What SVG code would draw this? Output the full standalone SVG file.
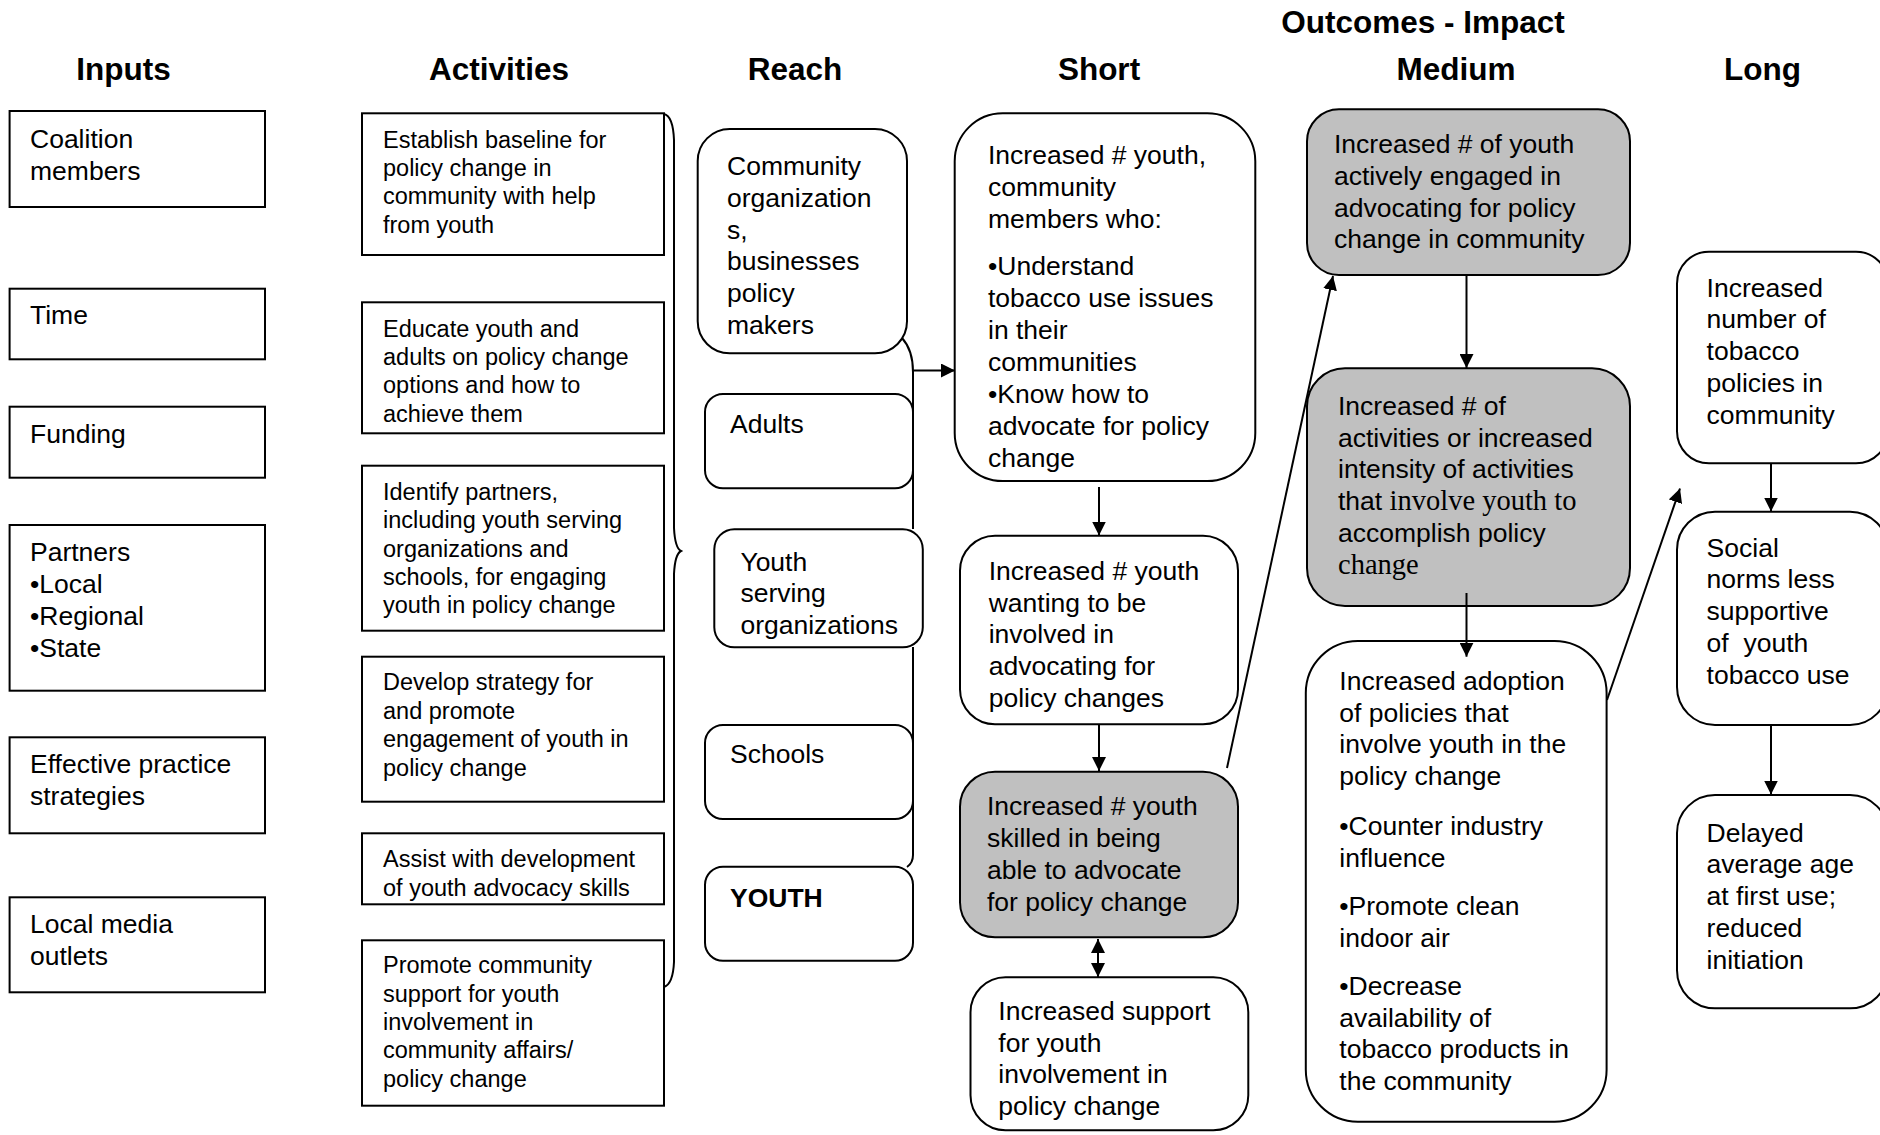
<svg xmlns="http://www.w3.org/2000/svg" width="1880" height="1135" viewBox="0 0 1880 1135">
  <style>
    .box { fill: #ffffff; stroke: #000000; stroke-width: 2; }
    .shade { fill: #c0c0c0; stroke: #000000; stroke-width: 2; }
    .t { font-family: "Liberation Sans", Arial, sans-serif; font-size: 26.5px; fill: #000000; }
    .ts { font-family: "Liberation Sans", Arial, sans-serif; font-size: 23.5px; fill: #000000; }
    .serif { font-family: "Liberation Serif", "Times New Roman", serif; font-size: 28.5px; }
    .head { font-family: "Liberation Sans", Arial, sans-serif; font-size: 31.5px; font-weight: bold; fill: #000000; text-anchor: middle; }
    .bold { font-weight: bold; }
    .wire { fill: none; stroke: #000000; stroke-width: 2; }
  </style>
  <defs>
    <marker id="arrow" viewBox="0 0 14 14" refX="14" refY="7" markerWidth="14" markerHeight="14" markerUnits="userSpaceOnUse" orient="auto-start-reverse">
      <path d="M0,0 L14,7 L0,14 z" fill="#000000"/>
    </marker>
  </defs>

  <rect width="1880" height="1135" fill="#ffffff"/>

  <!-- column headings -->
  <g id="headings">
    <text class="head" x="123.5" y="80">Inputs</text>
    <text class="head" x="499" y="80">Activities</text>
    <text class="head" x="795" y="80">Reach</text>
    <text class="head" x="1099" y="80">Short</text>
    <text class="head" x="1423" y="33">Outcomes - Impact</text>
    <text class="head" x="1456" y="80">Medium</text>
    <text class="head" x="1762.5" y="80">Long</text>
  </g>

  <!-- Inputs -->
  <g id="input-coalition">
    <rect class="box" x="9.6" y="111" width="255.4" height="96"/>
    <text class="t"><tspan x="30" y="147.7">Coalition</tspan><tspan x="30" y="179.5">members</tspan></text>
  </g>
  <g id="input-time">
    <rect class="box" x="9.6" y="288.7" width="255.4" height="70.6"/>
    <text class="t" x="30" y="324">Time</text>
  </g>
  <g id="input-funding">
    <rect class="box" x="9.6" y="406.7" width="255.4" height="71"/>
    <text class="t" x="30" y="443">Funding</text>
  </g>
  <g id="input-partners">
    <rect class="box" x="9.6" y="525" width="255.4" height="165.7"/>
    <text class="t"><tspan x="30" y="561">Partners</tspan><tspan x="30" y="593">•Local</tspan><tspan x="30" y="625">•Regional</tspan><tspan x="30" y="657">•State</tspan></text>
  </g>
  <g id="input-practice">
    <rect class="box" x="9.6" y="737.3" width="255.4" height="96"/>
    <text class="t"><tspan x="30" y="773">Effective practice</tspan><tspan x="30" y="805">strategies</tspan></text>
  </g>
  <g id="input-media">
    <rect class="box" x="9.6" y="897.3" width="255.4" height="95"/>
    <text class="t"><tspan x="30" y="933.3">Local media</tspan><tspan x="30" y="964.5">outlets</tspan></text>
  </g>

  <!-- Activities -->
  <g id="act-baseline">
    <rect class="box" x="362" y="113.3" width="302" height="141.7"/>
    <text class="ts"><tspan x="383" y="147.7">Establish baseline for</tspan><tspan x="383" y="176">policy change in</tspan><tspan x="383" y="204.3">community with help</tspan><tspan x="383" y="232.6">from youth</tspan></text>
  </g>
  <g id="act-educate">
    <rect class="box" x="362" y="302.3" width="302" height="131"/>
    <text class="ts"><tspan x="383" y="336.7">Educate youth and</tspan><tspan x="383" y="365">adults on policy change</tspan><tspan x="383" y="393.3">options and how to</tspan><tspan x="383" y="421.6">achieve them</tspan></text>
  </g>
  <g id="act-partners">
    <rect class="box" x="362" y="465.7" width="302" height="165"/>
    <text class="ts"><tspan x="383" y="500">Identify partners,</tspan><tspan x="383" y="528.3">including youth serving</tspan><tspan x="383" y="556.6">organizations and</tspan><tspan x="383" y="585">schools, for engaging</tspan><tspan x="383" y="613.3">youth in policy change</tspan></text>
  </g>
  <g id="act-strategy">
    <rect class="box" x="362" y="656.7" width="302" height="145"/>
    <text class="ts"><tspan x="383" y="690">Develop strategy for</tspan><tspan x="383" y="718.5">and promote</tspan><tspan x="383" y="747">engagement of youth in</tspan><tspan x="383" y="775.5">policy change</tspan></text>
  </g>
  <g id="act-skills">
    <rect class="box" x="362" y="833.3" width="302" height="71"/>
    <text class="ts"><tspan x="383" y="867.3">Assist with development</tspan><tspan x="383" y="895.5">of youth advocacy skills</tspan></text>
  </g>
  <g id="act-support">
    <rect class="box" x="362" y="940.3" width="302" height="165.4"/>
    <text class="ts"><tspan x="383" y="973.3">Promote community</tspan><tspan x="383" y="1001.6">support for youth</tspan><tspan x="383" y="1030">involvement in</tspan><tspan x="383" y="1058.3">community affairs/</tspan><tspan x="383" y="1087">policy change</tspan></text>
  </g>

  <!-- Reach -->
  <g id="reach-community">
    <rect class="box" x="697.7" y="129" width="209.3" height="224.3" rx="32" ry="32"/>
    <text class="t"><tspan x="727" y="175">Community</tspan><tspan x="727" y="206.8">organization</tspan><tspan x="727" y="238.6">s,</tspan><tspan x="727" y="270.4">businesses</tspan><tspan x="727" y="302.2">policy</tspan><tspan x="727" y="334">makers</tspan></text>
  </g>
  <g id="reach-adults">
    <rect class="box" x="705" y="394" width="208" height="94.3" rx="18" ry="18"/>
    <text class="t" x="730" y="433.3">Adults</text>
  </g>
  <g id="reach-youth-orgs">
    <rect class="box" x="714.3" y="529.3" width="208.5" height="118" rx="20" ry="20"/>
    <text class="t"><tspan x="740.4" y="570.7">Youth</tspan><tspan x="740.4" y="602.3">serving</tspan><tspan x="740.4" y="634">organizations</tspan></text>
  </g>
  <g id="reach-schools">
    <rect class="box" x="705" y="725" width="208" height="94" rx="18" ry="18"/>
    <text class="t" x="730" y="763.3">Schools</text>
  </g>
  <g id="reach-youth">
    <rect class="box" x="705" y="866.7" width="208" height="94" rx="18" ry="18"/>
    <text class="t bold" x="730" y="906.7">YOUTH</text>
  </g>

  <!-- Short-term outcomes -->
  <g id="short-aware">
    <rect class="box" x="954.7" y="113.3" width="300.6" height="367.7" rx="48" ry="48"/>
    <text class="t"><tspan x="988" y="163.5">Increased # youth,</tspan><tspan x="988" y="195.5">community</tspan><tspan x="988" y="227.5">members who:</tspan><tspan x="988" y="274.5">•Understand</tspan><tspan x="988" y="306.5">tobacco use issues</tspan><tspan x="988" y="338.5">in their</tspan><tspan x="988" y="370.5">communities</tspan><tspan x="988" y="402.5">•Know how to</tspan><tspan x="988" y="434.5">advocate for policy</tspan><tspan x="988" y="466.5">change</tspan></text>
  </g>
  <g id="short-wanting">
    <rect class="box" x="960" y="535.7" width="278" height="188.6" rx="35" ry="35"/>
    <text class="t"><tspan x="988.7" y="580">Increased # youth</tspan><tspan x="988.7" y="611.7">wanting to be</tspan><tspan x="988.7" y="643.4">involved in</tspan><tspan x="988.7" y="675.1">advocating for</tspan><tspan x="988.7" y="706.8">policy changes</tspan></text>
  </g>
  <g id="short-skilled">
    <rect class="shade" x="960" y="771.7" width="278" height="165.6" rx="35" ry="35"/>
    <text class="t"><tspan x="987" y="815">Increased # youth</tspan><tspan x="987" y="847">skilled in being</tspan><tspan x="987" y="879">able to advocate</tspan><tspan x="987" y="911">for policy change</tspan></text>
  </g>
  <g id="short-support">
    <rect class="box" x="970.5" y="977.3" width="277.8" height="153" rx="35" ry="35"/>
    <text class="t"><tspan x="998.3" y="1020">Increased support</tspan><tspan x="998.3" y="1051.7">for youth</tspan><tspan x="998.3" y="1083.4">involvement in</tspan><tspan x="998.3" y="1115.1">policy change</tspan></text>
  </g>

  <!-- Medium-term outcomes -->
  <g id="medium-engaged">
    <rect class="shade" x="1307" y="109.3" width="323" height="165.7" rx="32" ry="32"/>
    <text class="t"><tspan x="1334" y="153.3">Increased # of youth</tspan><tspan x="1334" y="185">actively engaged in</tspan><tspan x="1334" y="216.7">advocating for policy</tspan><tspan x="1334" y="248.4">change in community</tspan></text>
  </g>
  <g id="medium-activities">
    <rect class="shade" x="1307" y="368.3" width="323" height="237.7" rx="38" ry="38"/>
    <text class="t"><tspan x="1338" y="415">Increased # of</tspan><tspan x="1338" y="446.7">activities or increased</tspan><tspan x="1338" y="478.4">intensity of activities</tspan><tspan x="1338" y="510.1">that <tspan class="serif">involve youth to</tspan></tspan><tspan x="1338" y="541.8">accomplish policy</tspan><tspan class="serif" x="1338" y="573.5">change</tspan></text>
  </g>
  <g id="medium-adoption">
    <rect class="box" x="1305.8" y="641" width="300.8" height="480.7" rx="52" ry="52"/>
    <text class="t"><tspan x="1339.3" y="690">Increased adoption</tspan><tspan x="1339.3" y="721.7">of policies that</tspan><tspan x="1339.3" y="753.4">involve youth in the</tspan><tspan x="1339.3" y="785.1">policy change</tspan><tspan x="1339.3" y="835">•Counter industry</tspan><tspan x="1339.3" y="866.7">influence</tspan><tspan x="1339.3" y="915">•Promote clean</tspan><tspan x="1339.3" y="946.7">indoor air</tspan><tspan x="1339.3" y="995">•Decrease</tspan><tspan x="1339.3" y="1026.7">availability of</tspan><tspan x="1339.3" y="1058.4">tobacco products in</tspan><tspan x="1339.3" y="1090.1">the community</tspan></text>
  </g>

  <!-- Long-term outcomes -->
  <g id="long-policies">
    <rect class="box" x="1677" y="251.7" width="211" height="211.6" rx="32" ry="32"/>
    <text class="t"><tspan x="1706.6" y="296.7">Increased</tspan><tspan x="1706.6" y="328.4">number of</tspan><tspan x="1706.6" y="360.1">tobacco</tspan><tspan x="1706.6" y="391.8">policies in</tspan><tspan x="1706.6" y="423.5">community</tspan></text>
  </g>
  <g id="long-norms">
    <rect class="box" x="1677" y="511.7" width="211" height="213.3" rx="38" ry="38"/>
    <text class="t"><tspan x="1706.6" y="556.7">Social</tspan><tspan x="1706.6" y="588.4">norms less</tspan><tspan x="1706.6" y="620.1">supportive</tspan><tspan x="1706.6" y="651.8" xml:space="preserve">of  youth</tspan><tspan x="1706.6" y="683.5">tobacco use</tspan></text>
  </g>
  <g id="long-delayed">
    <rect class="box" x="1677" y="795" width="211" height="213.3" rx="38" ry="38"/>
    <text class="t"><tspan x="1706.6" y="841.7">Delayed</tspan><tspan x="1706.6" y="873.4">average age</tspan><tspan x="1706.6" y="905.1">at first use;</tspan><tspan x="1706.6" y="936.8">reduced</tspan><tspan x="1706.6" y="968.5">initiation</tspan></text>
  </g>

  <!-- connectors -->
  <g id="connectors">
    <!-- brace gathering the activities -->
    <path class="wire" d="M664,114 Q673,116 674,140 L674,528 Q675,548 681,551 Q675,554 674,574 L674,962 Q673,984 664,987"/>
    <!-- bracket gathering the reach groups -->
    <path class="wire" d="M902,338 Q913,350 913,372 L913,529"/>
    <path class="wire" d="M913,647 L913,855 Q913,863 907,867"/>
    <line class="wire" x1="913" y1="370.5" x2="955" y2="370.5" marker-end="url(#arrow)"/>
    <!-- short-term chain -->
    <line class="wire" x1="1099" y1="487" x2="1099" y2="535.5" marker-end="url(#arrow)"/>
    <line class="wire" x1="1099" y1="724.3" x2="1099" y2="771" marker-end="url(#arrow)"/>
    <line class="wire" x1="1098" y1="939" x2="1098" y2="977" marker-start="url(#arrow)" marker-end="url(#arrow)"/>
    <!-- short to medium -->
    <line class="wire" x1="1227" y1="768" x2="1333" y2="276" marker-end="url(#arrow)"/>
    <!-- medium chain -->
    <line class="wire" x1="1466.5" y1="275" x2="1466.5" y2="368" marker-end="url(#arrow)"/>
    <line class="wire" x1="1466.5" y1="593" x2="1466.5" y2="656.7" marker-end="url(#arrow)"/>
    <!-- medium to long -->
    <line class="wire" x1="1607" y1="700" x2="1680" y2="488.5" marker-end="url(#arrow)"/>
    <!-- long chain -->
    <line class="wire" x1="1771" y1="463.3" x2="1771" y2="511.5" marker-end="url(#arrow)"/>
    <line class="wire" x1="1771" y1="725" x2="1771" y2="794.5" marker-end="url(#arrow)"/>
  </g>
</svg>
